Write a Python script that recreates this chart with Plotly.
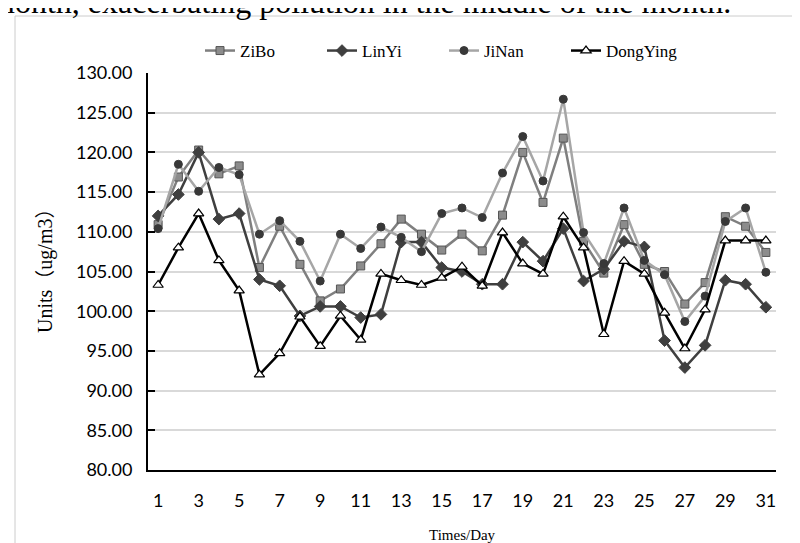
import plotly.graph_objects as go

days = list(range(1, 32))
zibo = [110.9, 116.9, 120.3, 117.3, 118.3, 105.5, 110.7, 105.9, 101.3, 102.8, 105.7, 108.5, 111.6, 109.7, 107.7,
        109.7, 107.6, 112.1, 120.0, 113.7, 121.8, 108.8, 104.8, 110.9, 105.9, 105.0, 100.9, 103.6, 111.9, 110.7, 107.4]
linyi = [112.0, 114.7, 120.0, 111.6, 112.3, 104.0, 103.2, 99.4, 100.6, 100.6, 99.2, 99.6, 108.7, 108.7, 105.5,
         105.0, 103.4, 103.4, 108.7, 106.3, 110.4, 103.8, 105.3, 108.8, 108.1, 96.3, 92.9, 95.7, 103.9, 103.4, 100.5]
jinan = [110.4, 118.5, 115.1, 118.1, 117.2, 109.7, 111.4, 108.8, 103.8, 109.7, 107.9, 110.6, 109.3, 107.5, 112.3,
         113.0, 111.8, 117.4, 122.0, 116.4, 126.7, 109.9, 106.0, 113.0, 106.4, 104.6, 98.7, 101.9, 111.3, 113.0, 104.9]
dongying = [103.3, 108.0, 112.3, 106.4, 102.6, 92.0, 94.7, 99.3, 95.6, 99.4, 96.4, 104.7, 103.9, 103.3, 104.2,
            105.6, 103.2, 109.9, 106.0, 104.7, 111.9, 108.0, 97.1, 106.3, 104.7, 99.8, 95.3, 100.2, 108.9, 108.9, 108.9]
x_ticks = list(range(1, 32, 2))
y_ticks = list(range(80, 131, 5))

# plot area in pixels
L, R, T, B = 140, 768, 65, 462
W, H = 800, 543
def px(xp):
    return (xp - L) / (R - L)
def py(yp):
    return (B - yp) / (B - T)

fig = go.Figure()
fig.add_trace(go.Scatter(x=days, y=zibo, name="ZiBo", mode="lines+markers",
                         line=dict(color="#7f7f7f", width=2.5),
                         marker=dict(symbol="square", size=8, color="#8c8c8c",
                                     line=dict(color="#555555", width=1))))
fig.add_trace(go.Scatter(x=days, y=linyi, name="LinYi", mode="lines+markers",
                         line=dict(color="#3f3f3f", width=2.5),
                         marker=dict(symbol="diamond", size=9, color="#3f3f3f",
                                     line=dict(color="#3f3f3f", width=1))))
fig.add_trace(go.Scatter(x=days, y=jinan, name="JiNan", mode="lines+markers",
                         line=dict(color="#a6a6a6", width=2.5),
                         marker=dict(symbol="circle", size=8, color="#383838",
                                     line=dict(color="#383838", width=1))))
fig.add_trace(go.Scatter(x=days, y=dongying, name="DongYing", mode="lines+markers",
                         line=dict(color="#000000", width=2.5),
                         marker=dict(symbol="triangle-up", size=9, color="#ffffff",
                                     line=dict(color="#000000", width=1.2))))

fig.update_layout(
    width=W, height=H,
    margin=dict(l=L, r=W - R, t=T, b=H - B),
    paper_bgcolor="white", plot_bgcolor="white",
    showlegend=True,
    legend=dict(orientation="h", x=px(192), xanchor="left", y=py(43), yanchor="middle",
                font=dict(family="Liberation Serif", size=17, color="#000"),
                entrywidth=77, entrywidthmode="pixels", bgcolor="rgba(0,0,0,0)"),
    xaxis=dict(range=[0.5, 31.5], tickmode="array", tickvals=x_ticks,
               ticktext=[str(v) for v in x_ticks], showgrid=False, zeroline=False,
               showline=True, linecolor="#000", linewidth=2, ticks="",
               ticklabelstandoff=13,
               tickfont=dict(family="Lato", size=18, color="#000")),
    yaxis=dict(range=[80, 130], tickmode="array", tickvals=y_ticks,
               ticktext=[f"{v:.2f}" for v in y_ticks], showgrid=True,
               gridcolor="#d9d9d9", gridwidth=1.5, zeroline=False,
               showline=True, linecolor="#000", linewidth=2,
               ticks="inside", ticklen=7, tickcolor="#000", tickwidth=1.5,
               ticklabelstandoff=10,
               tickfont=dict(family="Lato", size=18, color="#000")),
)

fig.add_annotation(text="Units（ug/m3）", xref="paper", yref="paper", x=px(37), y=py(258),
                   textangle=-90, showarrow=False, xanchor="center", yanchor="middle",
                   font=dict(family="Liberation Serif, Noto Sans CJK SC", size=20, color="#000"))
fig.add_annotation(text="Times/Day", xref="paper", yref="paper", x=px(454), y=py(527),
                   showarrow=False, xanchor="center", yanchor="middle",
                   font=dict(family="Liberation Serif", size=15, color="#000"))
fig.add_annotation(text="month, exacerbating pollution in the middle of the month.",
                   xref="paper", yref="paper", x=px(725), y=py(14), showarrow=False,
                   xanchor="right", yanchor="bottom",
                   font=dict(family="Liberation Serif", size=32, color="#000"))

# chart frame (partially visible)
fig.add_shape(type="line", xref="paper", yref="paper", x0=px(7), y0=py(8), x1=px(800), y1=py(8),
              line=dict(color="#cccccc", width=1))
fig.add_shape(type="line", xref="paper", yref="paper", x0=px(7), y0=py(8), x1=px(7), y1=py(543),
              line=dict(color="#cccccc", width=1))

fig.write_html("out.html")
